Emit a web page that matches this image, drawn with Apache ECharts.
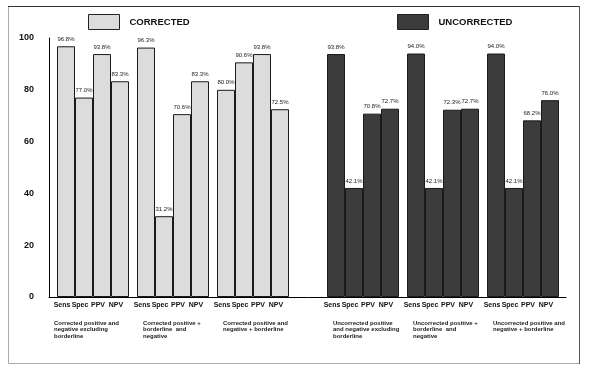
<!DOCTYPE html>
<html><head><meta charset="utf-8">
<script src="https://cdn.jsdelivr.net/npm/echarts@6/dist/echarts.min.js"></script>
<style>html,body{margin:0;padding:0;background:#fff}#c{width:593px;height:372px}</style>
</head><body><div id="c"></div>
<script>
// ---- data ----
const metrics = ['Sens', 'Spec', 'PPV', 'NPV'];
const correctedGroups = [
  'Corrected positive and\nnegative excluding\nborderline',
  'Corrected positive +\nborderline  and\nnegative',
  'Corrected positive and\nnegative + borderline'
];
const uncorrectedGroups = [
  'Uncorrected positive\nand negative excluding\nborderline',
  'Uncorrected positive +\nborderline  and\nnegative',
  'Uncorrected positive and\nnegative + borderline'
];
const corrSens = [96.8, 96.3, 80.0];
const corrSpec = [77.0, 31.2, 90.6];
const corrPPV  = [93.8, 70.6, 93.8];
const corrNPV  = [83.3, 83.3, 72.5];
const uncSens  = [93.8, 94.0, 94.0];
const uncSpec  = [42.1, 42.1, 42.1];
const uncPPV   = [70.8, 72.3, 68.2];
const uncNPV   = [72.7, 72.7, 76.0];
const yMin = 0, yMax = 100, yStep = 20;

// ---- chart ----
const FONT = '"Liberation Sans", Arial, sans-serif';
const NARROW = '"Liberation Sans Narrow", "Arial Narrow", "Liberation Sans", Arial, sans-serif';
const chart = echarts.init(document.getElementById('c'), null, {renderer: 'canvas'});

function groupLabel(value, idx, noIndent) {
  const row1 = metrics.map(m => '{s|' + m + '}').join('') + '{sp|}';
  const first = noIndent && idx === 0;
  const lines = value.split('\n').map(l => (first ? '{ind0| }{d0|' : '{ind| }{d|') + l + '}').join('\n');
  return row1 + '\n{g| }\n' + lines;
}
const rich = {
  s: {width: 18, align: 'center', fontSize: 7, fontWeight: 'bold', color: '#111', lineHeight: 9, fontFamily: NARROW},
  sp: {width: 8, fontSize: 7, lineHeight: 9},
  g: {fontSize: 1, lineHeight: 10},
  ind: {width: 10, align: 'left', fontSize: 6, lineHeight: 6.4},
  ind0: {width: 1, align: 'left', fontSize: 6, lineHeight: 6.4},
  d: {width: 70, align: 'left', fontSize: 6, fontWeight: 'bold', color: '#222', lineHeight: 6.4, fontFamily: FONT},
  d0: {width: 79, align: 'left', fontSize: 6, fontWeight: 'bold', color: '#222', lineHeight: 6.4, fontFamily: FONT}
};

function barSeries(name, data, gridIdx, color) {
  return {
    type: 'bar', name: name, data: data,
    xAxisIndex: gridIdx, yAxisIndex: gridIdx,
    barWidth: 18, barGap: '0%',
    itemStyle: {color: color, borderColor: '#1a1a1a', borderWidth: 1},
    label: {
      show: true, position: 'top', distance: 4,
      formatter: p => p.value.toFixed(1) + '%',
      fontSize: 6, color: '#222', fontFamily: FONT
    },
    emphasis: {disabled: true},
    silent: true
  };
}

const LIGHT = '#dcdcdc', DARK = '#3c3c3c';
const legendCommon = {
  top: 14, padding: 0, itemWidth: 31, itemHeight: 15, selectedMode: false,
  icon: 'rect', itemStyle: {borderColor: '#222', borderWidth: 1},
  textStyle: {fontSize: 9.5, fontWeight: 'bold', color: '#111', padding: [0, 0, 0, 5], fontFamily: FONT}
};

const option = {
  backgroundColor: '#fff',
  animation: false,
  textStyle: {fontFamily: FONT},
  legend: [
    Object.assign({data: ['CORRECTED'], left: 88}, legendCommon),
    Object.assign({data: ['UNCORRECTED'], left: 397}, legendCommon)
  ],
  grid: [
    {left: 49, right: 27, top: 38, bottom: 75},
    {left: 53, width: 240, top: 38, bottom: 75},
    {left: 323, width: 240, top: 38, bottom: 75}
  ],
  xAxis: [
    {gridIndex: 0, type: 'value', min: 0, max: 1, axisLine: {show: true, onZero: false, lineStyle: {color: '#000', width: 1}},
     axisTick: {show: false}, axisLabel: {show: false}, splitLine: {show: false}},
    {gridIndex: 1, type: 'category', data: correctedGroups, axisLine: {show: false}, axisTick: {show: false},
     axisLabel: {interval: 0, margin: 4, formatter: (v, i) => groupLabel(v, i, true), rich: rich}},
    {gridIndex: 2, type: 'category', data: uncorrectedGroups, axisLine: {show: false}, axisTick: {show: false},
     axisLabel: {interval: 0, margin: 4, formatter: (v, i) => groupLabel(v, i, false), rich: rich}}
  ],
  yAxis: [
    {gridIndex: 0, type: 'value', min: yMin, max: yMax, interval: yStep,
     axisLine: {show: true, lineStyle: {color: '#000', width: 1}}, axisTick: {show: false},
     splitLine: {show: false},
     axisLabel: {margin: 15, fontSize: 9, fontWeight: 'bold', color: '#111', fontFamily: FONT}},
    {gridIndex: 1, type: 'value', min: yMin, max: yMax, show: false},
    {gridIndex: 2, type: 'value', min: yMin, max: yMax, show: false}
  ],
  series: [
    barSeries('CORRECTED', corrSens, 1, LIGHT),
    barSeries('CORRECTED', corrSpec, 1, LIGHT),
    barSeries('CORRECTED', corrPPV, 1, LIGHT),
    barSeries('CORRECTED', corrNPV, 1, LIGHT),
    barSeries('UNCORRECTED', uncSens, 2, DARK),
    barSeries('UNCORRECTED', uncSpec, 2, DARK),
    barSeries('UNCORRECTED', uncPPV, 2, DARK),
    barSeries('UNCORRECTED', uncNPV, 2, DARK)
  ],
  graphic: [
    {type: 'rect', shape: {x: 8.5, y: 6.5, width: 571, height: 357}, style: {fill: 'none', stroke: '#aaa', lineWidth: 1}, silent: true},
    {type: 'line', shape: {x1: 8, y1: 6.5, x2: 580, y2: 6.5}, style: {stroke: '#333', lineWidth: 1}, silent: true},
    {type: 'line', shape: {x1: 579.5, y1: 6, x2: 579.5, y2: 364}, style: {stroke: '#555', lineWidth: 1}, silent: true}
  ]
};
chart.setOption(option);
</script>
</body></html>
